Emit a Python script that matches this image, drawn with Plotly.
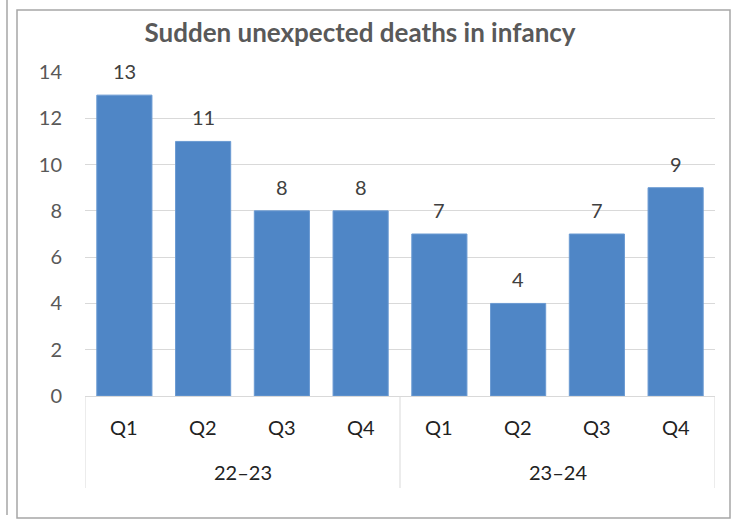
import plotly.graph_objects as go

years = ["22–23", "22–23", "22–23", "22–23", "23–24", "23–24", "23–24", "23–24"]
quarters = ["Q1", "Q2", "Q3", "Q4", "Q1", "Q2", "Q3", "Q4"]
deaths = [13, 11, 8, 8, 7, 4, 7, 9]
y_ticks = [0, 2, 4, 6, 8, 10, 12, 14]

FONT = "Lato, Carlito, Calibri, 'Liberation Sans', sans-serif"

W, H = 744, 526
L, R, T, B = 85, 29, 72, 130
pw, ph = W - L - R, H - T - B
def px(x): return (x - L) / pw
def py(y): return (H - B - y) / ph

fig = go.Figure()
fig.add_trace(go.Bar(
    x=[years, quarters],
    y=deaths,
    marker=dict(color="#4F86C6", line=dict(color="#6A9AD2", width=1)),
    hoverinfo="y",
))

# data labels
for i, v in enumerate(deaths):
    fig.add_annotation(
        x=i, y=v, xref="x", yref="y", text=str(v), showarrow=False,
        yanchor="bottom", yshift=10,
        font=dict(family=FONT, size=20, color="#404040"),
    )

# quarter labels
for i, q in enumerate(quarters):
    fig.add_annotation(
        x=i, y=0, xref="x", yref="paper", text=q, showarrow=False,
        yanchor="middle", yshift=-31,
        font=dict(family=FONT, size=20, color="#222222"),
    )

# group labels and dividers
groups = []
for i, yv in enumerate(years):
    if not groups or groups[-1][0] != yv:
        groups.append([yv, i, i])
    else:
        groups[-1][2] = i
bounds = sorted({g[1] - 0.5 for g in groups} | {g[2] + 0.5 for g in groups})
for name, s, e in groups:
    fig.add_annotation(
        x=(s + e) / 2, y=0, xref="x", yref="paper", text=name, showarrow=False,
        yanchor="middle", yshift=-76,
        font=dict(family=FONT, size=20, color="#222222"),
    )
for b in bounds:
    fig.add_shape(type="line", xref="x", yref="paper", x0=b, x1=b,
                  y0=0, y1=py(488), line=dict(color="#D9D9D9", width=1))

# outer frames (decorative)
fig.add_shape(type="rect", xref="paper", yref="paper",
              x0=px(17), x1=px(730), y0=py(518), y1=py(10),
              line=dict(color="#A6A6A6", width=1.5), layer="below")
fig.add_shape(type="line", xref="paper", yref="paper",
              x0=px(7), x1=px(7), y0=py(515), y1=py(0),
              line=dict(color="#A6A6A6", width=1.5))

fig.update_layout(
    width=W, height=H,
    margin=dict(l=L, r=R, t=T, b=B),
    paper_bgcolor="white", plot_bgcolor="white",
    bargap=0.3,
    showlegend=False,
    title=dict(text="<b>Sudden unexpected deaths in infancy</b>",
               x=360 / W, xanchor="center", y=1 - 33 / H, yanchor="middle",
               yref="container",
               font=dict(family=FONT, size=26, color="#595959")),
    font=dict(family=FONT),
)
fig.update_yaxes(range=[0, 14], tickvals=y_ticks, showgrid=True,
                 gridcolor="#D9D9D9", gridwidth=1, zeroline=False,
                 showline=False, ticks="", ticklen=0, ticklabelstandoff=22,
                 tickfont=dict(size=20, color="#595959"))
fig.update_xaxes(showline=True, linecolor="#D9D9D9", linewidth=1,
                 showticklabels=False, showdividers=False, ticks="",
                 range=[bounds[0], bounds[-1]])

fig.write_html("out.html", config={"displayModeBar": False},
               post_script="document.body.style.margin='0';")
